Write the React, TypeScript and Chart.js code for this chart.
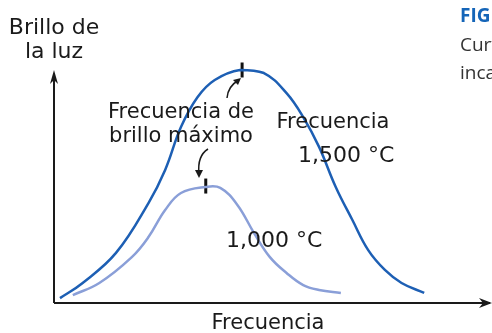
import React, { useEffect, useRef } from "react";
import { Chart, registerables } from "chart.js";

Chart.register(...registerables);

// Frequency (arbitrary units 0-100) and brightness (0-100)
const hotX = [1.4, 6.7, 14.5, 22.1, 26.0, 29.7, 33.6, 37.6, 43.5, 49.1, 54.4, 58.3, 62.0, 65.9, 69.8, 73.5, 77.4, 81.3, 86.6];
const hotY = [2.1, 8.6, 21.5, 42.9, 57.1, 75.5, 88.4, 95.7, 100, 98.7, 90.1, 79.8, 67.0, 49.8, 35.6, 22.7, 14.2, 8.6, 4.3];
const warmX = [4.4, 10.6, 18.2, 22.1, 26.0, 29.7, 35.5, 38.9, 42.9, 46.8, 50.5, 54.4, 58.3, 62.0, 67.1];
const warmY = [3.4, 8.6, 19.7, 28.3, 39.9, 47.2, 49.8, 49.4, 42.1, 30.0, 19.7, 12.9, 7.7, 5.6, 4.3];
const peakX = [44.0, 35.5];
const peakY = [100, 50.2];

const FONT = "'DejaVu Sans', sans-serif";

const decor = {
  id: "decor",
  afterDraw(chart: any) {
    const { ctx, chartArea } = chart;
    const l = chartArea.left, b = chartArea.bottom, t = chartArea.top;
    ctx.save();
    ctx.strokeStyle = "#1a1a1a";
    ctx.fillStyle = "#1a1a1a";
    ctx.lineWidth = 2;
    // axes
    ctx.beginPath();
    ctx.moveTo(l, b);
    ctx.lineTo(l, t + 4);
    ctx.moveTo(l, b);
    ctx.lineTo(490, b);
    ctx.stroke();
    // arrowheads
    ctx.beginPath();
    ctx.moveTo(l, t);
    ctx.lineTo(l - 4, t + 14);
    ctx.lineTo(l, t + 10);
    ctx.lineTo(l + 4, t + 14);
    ctx.closePath();
    ctx.fill();
    ctx.beginPath();
    ctx.moveTo(492, b);
    ctx.lineTo(479, b - 5);
    ctx.lineTo(483, b);
    ctx.lineTo(479, b + 5);
    ctx.closePath();
    ctx.fill();
    // small pointer arrows
    ctx.lineWidth = 1.5;
    ctx.beginPath();
    ctx.moveTo(227, 98);
    ctx.quadraticCurveTo(228, 86, 239, 80);
    ctx.stroke();
    ctx.beginPath();
    ctx.moveTo(241, 78);
    ctx.lineTo(233, 80);
    ctx.lineTo(238, 85);
    ctx.closePath();
    ctx.fill();
    ctx.beginPath();
    ctx.moveTo(208, 149);
    ctx.quadraticCurveTo(197, 156, 199, 174);
    ctx.stroke();
    ctx.beginPath();
    ctx.moveTo(199, 178);
    ctx.lineTo(195, 170);
    ctx.lineTo(203, 170);
    ctx.closePath();
    ctx.fill();

    // texts
    ctx.fillStyle = "#1a1a1a";
    ctx.font = `22px ${FONT}`;
    ctx.textBaseline = "alphabetic";
    ctx.textAlign = "center";
    ctx.fillText("Brillo de", 54, 34);
    ctx.fillText("la luz", 54, 58);
    ctx.font = `21px ${FONT}`;
    ctx.fillText("Frecuencia", 268, 329);
    ctx.fillText("Frecuencia de", 181, 118);
    ctx.fillText("brillo máximo", 181, 142);
    ctx.fillText("Frecuencia", 333, 128);
    ctx.font = `22px ${FONT}`;
    ctx.textAlign = "left";
    ctx.fillText("1,500 °C", 298, 162);
    ctx.fillText("1,000 °C", 226, 247);

    ctx.fillStyle = "#1565b8";
    ctx.font = `bold 19px 'Open Sans', sans-serif`;
    ctx.fillText("FIGURA 2", 460, 22);
    ctx.fillStyle = "#333";
    ctx.font = `19px 'Open Sans', sans-serif`;
    ctx.fillText("Curvas de brillo", 460, 51);
    ctx.fillText("incandescentes", 460, 79);
    ctx.restore();
  },
};

export default function App() {
  const ref = useRef<HTMLCanvasElement | null>(null);
  useEffect(() => {
    document.body.style.margin = "0";
    if (!ref.current) return;
    const chart = new Chart(ref.current, {
      type: "line",
      data: {
        datasets: [
          {
            label: "1,500 °C",
            data: hotX.map((x, i) => ({ x, y: hotY[i] })),
            borderColor: "#1d5fb4",
            borderWidth: 2.5,
            pointRadius: 0,
            tension: 0.4,
          },
          {
            label: "1,000 °C",
            data: warmX.map((x, i) => ({ x, y: warmY[i] })),
            borderColor: "#8a9fd8",
            borderWidth: 2.5,
            pointRadius: 0,
            tension: 0.4,
          },
          {
            label: "peaks",
            data: peakX.map((x, i) => ({ x, y: peakY[i] })),
            showLine: false,
            pointStyle: "line",
            rotation: 90,
            pointRadius: 7.5,
            borderWidth: 3,
            borderColor: "#111",
          },
        ],
      },
      options: {
        responsive: false,
        animation: false,
        clip: false,
        layout: { padding: { left: 54, right: 4, top: 70, bottom: 30 } },
        plugins: { legend: { display: false }, tooltip: { enabled: false } },
        scales: {
          x: { type: "linear", min: 0, max: 100, display: false },
          y: { type: "linear", min: 0, max: 100, display: false },
        },
      } as any,
      plugins: [decor],
    });
    return () => chart.destroy();
  }, []);
  return <canvas ref={ref} width={492} height={333} style={{ display: "block" }} />;
}
